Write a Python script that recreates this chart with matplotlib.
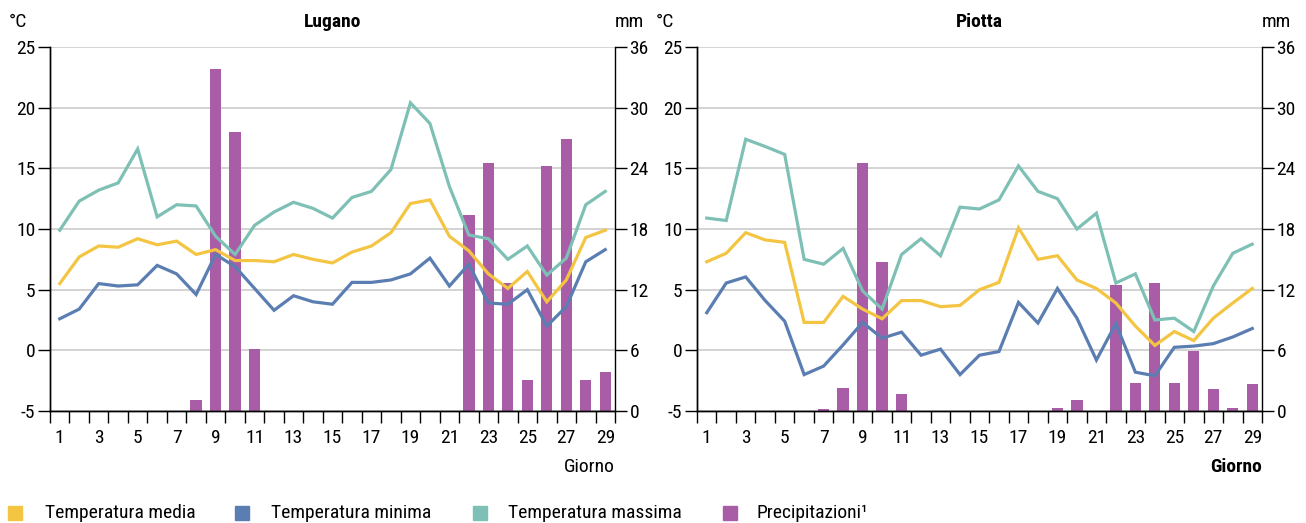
import matplotlib
matplotlib.use("Agg")
import matplotlib.pyplot as plt
from matplotlib import font_manager
from matplotlib.lines import Line2D
import numpy as np

available = {f.name for f in font_manager.fontManager.ttflist}
prefs = ['Roboto Condensed', 'Archivo Narrow', 'Barlow Semi Condensed', 'Barlow Condensed', 'DejaVu Sans']
chosen = [p for p in prefs if p in available]
plt.rcParams['font.family'] = chosen[:1] + ['DejaVu Sans']
plt.rcParams['axes.unicode_minus'] = False

days = list(range(1, 30))

lugano_media = [5.5, 7.7, 8.6, 8.5, 9.2, 8.7, 9.0, 7.9, 8.3, 7.4, 7.4, 7.3, 7.9, 7.5, 7.2,
                8.1, 8.6, 9.7, 12.1, 12.4, 9.4, 8.2, 6.3, 5.1, 6.5, 4.0, 5.8, 9.3, 9.9]
lugano_minima = [2.6, 3.4, 5.5, 5.3, 5.4, 7.0, 6.3, 4.6, 7.9, 6.9, 5.1, 3.3, 4.5, 4.0, 3.8,
                 5.6, 5.6, 5.8, 6.3, 7.6, 5.3, 7.1, 3.9, 3.8, 5.0, 2.0, 3.6, 7.3, 8.3]
lugano_massima = [9.9, 12.3, 13.2, 13.8, 16.6, 11.0, 12.0, 11.9, 9.4, 7.9, 10.3, 11.4, 12.2, 11.7, 10.9,
                  12.6, 13.1, 14.9, 20.4, 18.7, 13.5, 9.5, 9.2, 7.5, 8.6, 6.2, 7.6, 12.0, 13.1]
lugano_prec = [0, 0, 0, 0, 0, 0, 0, 1.1, 33.8, 27.6, 6.1, 0, 0, 0, 0,
               0, 0, 0, 0, 0, 0, 19.4, 24.5, 12.7, 3.1, 24.2, 26.9, 3.1, 3.9]

piotta_media = [7.3, 8.0, 9.7, 9.1, 8.9, 2.3, 2.3, 4.45, 3.4, 2.6, 4.1, 4.1, 3.6, 3.7, 5.0,
                5.6, 10.1, 7.5, 7.8, 5.8, 5.1, 3.9, 2.0, 0.4, 1.55, 0.8, 2.65, 3.9, 5.1]
piotta_minima = [3.1, 5.55, 6.05, 4.1, 2.4, -2.0, -1.3, 0.45, 2.3, 1.0, 1.5, -0.4, 0.1, -2.0, -0.4,
                 -0.1, 3.95, 2.25, 5.1, 2.65, -0.8, 2.2, -1.8, -2.1, 0.25, 0.35, 0.55, 1.1, 1.8]
piotta_massima = [10.9, 10.7, 17.4, 16.8, 16.15, 7.5, 7.1, 8.4, 4.9, 3.4, 7.9, 9.2, 7.8, 11.8, 11.65,
                  12.4, 15.2, 13.1, 12.5, 10.0, 11.3, 5.55, 6.3, 2.5, 2.65, 1.55, 5.3, 8.0, 8.75]
piotta_prec = [0, 0, 0, 0, 0, 0, 0.2, 2.3, 24.5, 14.7, 1.65, 0, 0, 0, 0,
               0, 0, 0, 0.3, 1.05, 0, 12.5, 2.8, 12.7, 2.8, 5.9, 2.2, 0.3, 2.7]

temp_ticks = [-5, 0, 5, 10, 15, 20, 25]
prec_ticks = [0, 6, 12, 18, 24, 30, 36]
day_labels = list(range(1, 30, 2))

c_media = '#F4C542'
c_min = '#5B7EB2'
c_max = '#7EC0B5'
c_prec = '#A85DA6'

fig = plt.figure(figsize=(13.06, 5.23), dpi=100)

panels = [
    ("Lugano", lugano_media, lugano_minima, lugano_massima, lugano_prec, 50, 'normal'),
    ("Piotta", piotta_media, piotta_minima, piotta_massima, piotta_prec, 697, 'bold'),
]

W, H = 1306, 523
fs = 14
for title, media, minima, massima, prec, xleft, gweight in panels:
    ax = fig.add_axes([xleft / W, (H - 411) / H, 565 / W, 364 / H])
    ax2 = ax.twinx()
    ax.set_zorder(ax2.get_zorder() + 1)
    ax.patch.set_visible(False)

    ax2.bar(days, prec, width=0.58, color=c_prec, zorder=2)
    ax2.set_ylim(0, 36)
    ax2.set_yticks(prec_ticks)
    ax2.grid(axis='y', color='#d0d0d0', linewidth=1.3, zorder=0)
    ax2.set_axisbelow(True)

    ax.plot(days, massima, color=c_max, lw=2.3, solid_joinstyle='miter')
    ax.plot(days, media, color=c_media, lw=2.3, solid_joinstyle='miter')
    ax.plot(days, minima, color=c_min, lw=2.3, solid_joinstyle='miter')

    ax.set_ylim(-5, 25)
    ax.set_yticks(temp_ticks)
    ax.set_xlim(0.5, 29.5)
    ax.set_xticks(day_labels)
    ax.set_xticks(np.arange(0.5, 30, 1), minor=True)
    ax.tick_params(axis='x', which='major', length=0, pad=13, labelsize=fs)
    ax.tick_params(axis='x', which='minor', length=8.5, width=1, direction='out')
    ax.tick_params(axis='y', length=8.5, width=1, direction='out', labelsize=fs, pad=2)
    ax2.tick_params(axis='y', length=8.5, width=1, direction='out', labelsize=fs, pad=2)
    for a in (ax, ax2):
        a.spines['top'].set_visible(False)
        for s in ('left', 'right', 'bottom'):
            a.spines[s].set_linewidth(1)
    ax.spines['right'].set_visible(False)

    ax.text(0.5, 1.07, title, transform=ax.transAxes, ha='center', va='center',
            fontsize=fs, fontweight='bold')
    ax.text(-0.057, 1.07, "°C", transform=ax.transAxes, ha='center', va='center', fontsize=fs)
    ax.text(1.025, 1.07, "mm", transform=ax.transAxes, ha='center', va='center', fontsize=fs)
    ax.text(1.0, -0.155, "Giorno", transform=ax.transAxes, ha='right', va='center',
            fontsize=fs, fontweight=gweight)

labels = ["Temperatura media", "Temperatura minima", "Temperatura massima", "Precipitazioni¹"]
colors = [c_media, c_min, c_max, c_prec]
sq_x = [15, 242, 480, 730]
tx_x = [45, 271, 508, 757]
ly = 1 - 513 / H
for lab, col, sx, tx in zip(labels, colors, sq_x, tx_x):
    fig.add_artist(Line2D([sx / W], [ly], marker='s', ls='none', color=col,
                          markersize=9.5, transform=fig.transFigure))
    fig.text(tx / W, ly, lab, ha='left', va='center', fontsize=fs)

fig.savefig("out.png", dpi=100)
